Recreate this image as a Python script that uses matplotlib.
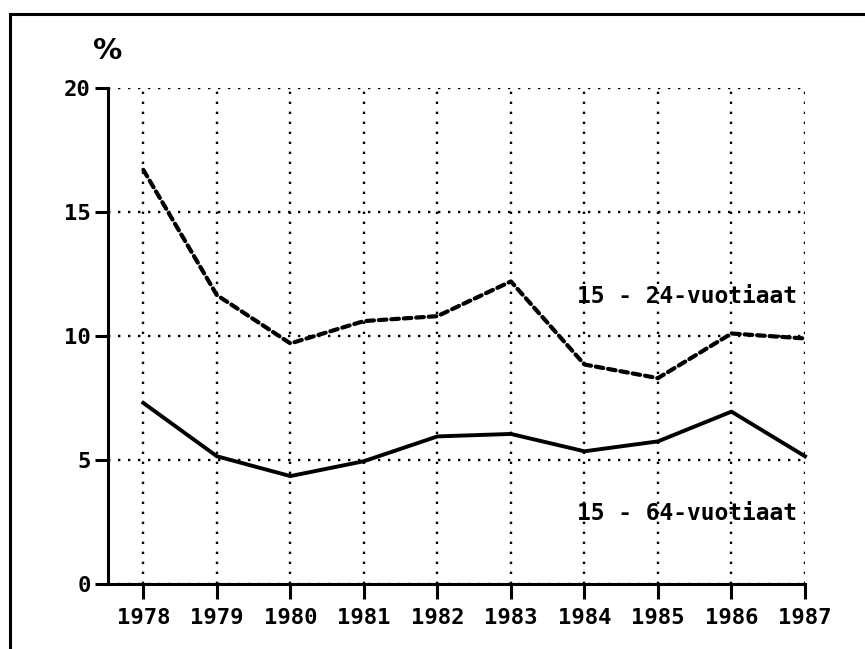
import matplotlib
matplotlib.use("Agg")
import matplotlib.pyplot as plt
from matplotlib.lines import Line2D

# values
years = [1978, 1979, 1980, 1981, 1982, 1983, 1984, 1985, 1986, 1987]
young = [16.7, 11.65, 9.7, 10.6, 10.8, 12.2, 8.85, 8.3, 10.1, 9.9]   # 15 - 24-vuotiaat
all_ages = [7.3, 5.15, 4.35, 4.95, 5.95, 6.05, 5.35, 5.75, 6.95, 5.15]  # 15 - 64-vuotiaat
yticks = [0, 5, 10, 15, 20]

plt.rcParams['font.family'] = ['DejaVu Sans Mono', 'DejaVu Sans']
plt.rcParams['font.weight'] = 'bold'
plt.rcParams['lines.scale_dashes'] = False

fig = plt.figure(figsize=(8.65, 6.49), dpi=100)
ax = fig.add_axes([0.1249, 0.1002, 0.9306 - 0.1249, 0.8644 - 0.1002])

# dotted grid
ax.set_xticks(years)
ax.set_yticks(yticks)
ax.grid(True, linestyle=(0, (1.7, 5.5)), linewidth=1.7, color='black')
ax.set_axisbelow(True)

# series
ax.plot(years, young, color='black', linewidth=3, dashes=(5.5, 3.5),
        dash_capstyle='round', clip_on=False)
ax.plot(years, all_ages, color='black', linewidth=2.8, clip_on=False)

ax.set_xlim(1977.52, 1987)
ax.set_ylim(0, 20)

for s in ['top', 'right']:
    ax.spines[s].set_visible(False)
for s in ['left', 'bottom']:
    ax.spines[s].set_linewidth(2.2)

ax.tick_params(axis='y', length=9.5, width=2.2, pad=3, labelsize=16)
ax.tick_params(axis='x', length=11, width=2.2, pad=6, labelsize=16)
ax.set_xticklabels([str(y) for y in years])
ax.set_yticklabels([str(v) for v in yticks])

# series labels
ax.text(1983.9, 11.6, "15 - 24-vuotiaat", fontsize=16.5, va='center', ha='left')
ax.text(1983.9, 2.85, "15 - 64-vuotiaat", fontsize=16.5, va='center', ha='left')

# percent sign above the axis
fig.text(108 / 865, 1 - 51 / 649, "%", fontsize=21, ha='center', va='center',
         family='DejaVu Sans')

# scanned page frame (top and left)
fig.add_artist(Line2D([10 / 865, 1], [1 - 14 / 649, 1 - 14 / 649],
                      transform=fig.transFigure, color='black', linewidth=2.2))
fig.add_artist(Line2D([10 / 865, 10 / 865], [0, 1 - 14 / 649],
                      transform=fig.transFigure, color='black', linewidth=2.2))

fig.savefig("out.png", dpi=100, facecolor='white')
